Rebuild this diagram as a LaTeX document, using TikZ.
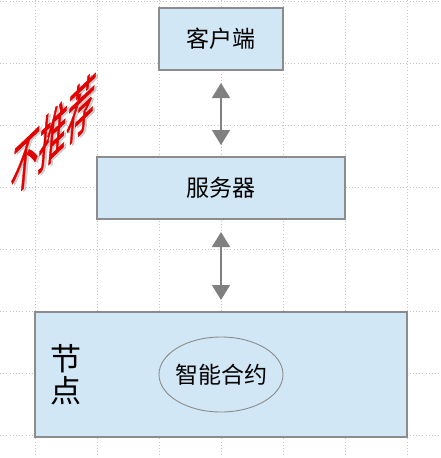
\documentclass[tikz,border=0pt]{standalone}
\usepackage{fontspec}
\newfontfamily\cjk{Noto Sans CJK SC}
\newfontfamily\warnfont[FakeBold=1.5]{Noto Sans CJK SC}
\usetikzlibrary{shapes.geometric, arrows.meta, positioning}
\definecolor{tierblue}{RGB}{209,231,245}
\definecolor{tiergray}{RGB}{140,140,140}
\definecolor{arrowgray}{RGB}{128,128,128}
\definecolor{gridgray}{RGB}{195,195,195}
\definecolor{warnred}{RGB}{226,0,0}
\tikzstyle{tierbox} = [rectangle, draw=tiergray, line width=1.2pt, fill=tierblue, outer sep=0pt, text centered, font=\cjk\fontsize{23}{26}\selectfont]
\tikzstyle{contract} = [ellipse, draw=tiergray, line width=0.9pt, fill=tierblue, minimum width=124pt, minimum height=75pt, inner sep=0pt, font=\cjk\fontsize{23}{26}\selectfont]
\tikzstyle{arrow} = [arrowgray, line width=1.5pt, {Triangle[width=18pt,length=15pt]}-{Triangle[width=18pt,length=15pt]}, shorten <=13pt, shorten >=12pt]
\tikzstyle{gridline} = [gridgray, line width=0.8pt, dash pattern=on 0.8pt off 2.4pt]
\tikzstyle{warntext} = [transform shape, inner sep=0pt, font=\warnfont\fontsize{28}{30}\selectfont]

\begin{document}
\begin{tikzpicture}[x=1pt, y=-1pt]
			\useasboundingbox (0,0) rectangle (440,458);
			% dotted grid behind everything
			\foreach \x in {35,97,...,407} \draw [gridline] (\x,0) -- (\x,458);
			\foreach \y in {1,63,...,436} \draw [gridline] (0,\y) -- (440,\y);

			\node (client) [tierbox, minimum width=124pt, minimum height=62pt] at (221,39) {客户端};
			\node (server) [tierbox, minimum width=248pt, minimum height=62pt, below=87pt of client] {服务器};
			\node (nodebox) [tierbox, minimum width=372pt, minimum height=125pt, below=93pt of server] {};
			\node (contract) [contract] at (nodebox.center) {\makebox[80pt]{智能合约}};
			\node (nodelabel) [right=15pt of nodebox.west, inner sep=0pt, align=center, font=\cjk\fontsize{31}{32}\selectfont] {节\\点};

			\draw [arrow] (client) -- (server);
			\draw [arrow] (server) -- (nodebox);

			% slanted warning
			\begin{scope}[shift={(53,135)}, yslant=0.95, xslant=0.1, yscale=2]
				\node (warnshadow) [warntext, text=gray!70, opacity=0.5, xshift=2.5pt, yshift=-1.5pt] {不推荐};
				\node (warning) [warntext, text=warnred] {不推荐};
			\end{scope}
		\end{tikzpicture}
\end{document}
